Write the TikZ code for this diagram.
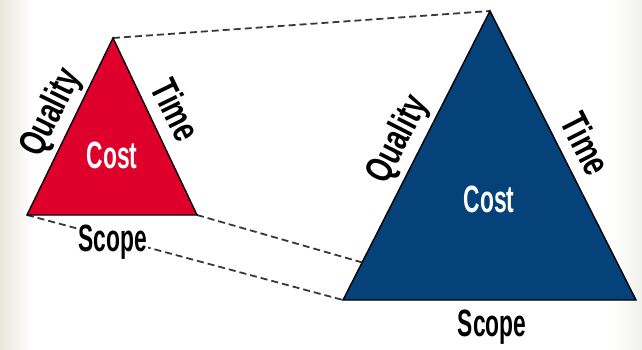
\documentclass[tikz,border=0pt]{standalone}
\usepackage{fontspec}
\setmainfont{Liberation Sans}
\usetikzlibrary{calc}
\definecolor{costred}{RGB}{222,0,42}
\definecolor{costblue}{RGB}{6,66,122}
\definecolor{edgebeige}{RGB}{234,231,218}
\definecolor{edgegrey}{RGB}{241,240,235}

\begin{document}
\begin{tikzpicture}[x=1pt, y=-1pt,
  tri/.style = {draw=black, line width=1.4pt, line join=miter},
  lbl/.style = {font=\bfseries\fontsize{38}{38}\selectfont, inner sep=1pt, xscale=0.6},
  side/.style = {font=\bfseries\fontsize{38}{38}\selectfont, inner sep=1pt, rotate=#1, xscale=0.72},
  link/.style = {dash pattern=on 7pt off 4pt, line width=1.8pt, draw=black!78}]
\useasboundingbox (0,0) rectangle (642,349);
% shaded page edges
\shade[left color=edgebeige, right color=white] (0,0) rectangle (32,349);
\shade[left color=white, right color=edgegrey] (612,0) rectangle (642,349);
% corners of the small triangle
\coordinate (sa) at (113,38);
\coordinate (sl) at (27,215);
\coordinate (sr) at (197,215);
% corners of the big triangle
\coordinate (ba) at (490,11);
\coordinate (bl) at (343,300);
\coordinate (br) at (636,300);
\coordinate (bq) at ($(bl)!0.13!(ba)$);
% dashed projection lines
\draw[link] (sa) -- (ba);
\draw[link] (sr) -- (bq);
\draw[link] (sl) -- (bl);
% the two triangles
\filldraw[tri, fill=costred] (sa) -- (sr) -- (sl) -- cycle;
\filldraw[tri, fill=costblue] (ba) -- (br) -- (bl) -- cycle;
% labels, small triangle
\node[lbl, text=white] (scost) at (112,155) {Cost};
\node[side=64] (squal) at (52,113) {Quality};
\node[side=-64] (stime) at (176,110) {Time};
\node[lbl, fill=white] (sscope) at (113,242) {Scope};
% labels, big triangle
\node[lbl, text=white] (bcost) at (489,199) {Cost};
\node[side=63] (bqual) at (399,140) {Quality};
\node[side=-63] (btime) at (586,144) {Time};
\node[lbl] (bscope) at (492,327) {Scope};
\end{tikzpicture}
\end{document}
